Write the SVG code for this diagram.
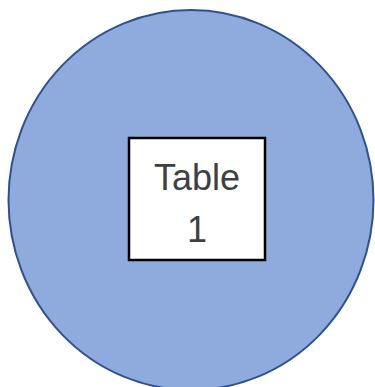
<svg xmlns="http://www.w3.org/2000/svg" width="375" height="387" viewBox="0 0 375 387">
<style>
.lbl{font-family:"Liberation Sans",Arial,sans-serif;font-size:36px;fill:#404040;text-anchor:middle}
</style>
<rect width="375" height="387" fill="#ffffff"/>
<g id="circle">
<ellipse cx="191" cy="200" rx="182.5" ry="190" fill="#8FAADC" stroke="#2F528F" stroke-width="2"/>
</g>
<g id="table1">
<rect x="129" y="138" width="136" height="122" fill="#ffffff" stroke="#000000" stroke-width="2.5"/>
<text class="lbl" x="197" y="190">Table</text>
<text class="lbl" x="197" y="242">1</text>
</g>
</svg>
